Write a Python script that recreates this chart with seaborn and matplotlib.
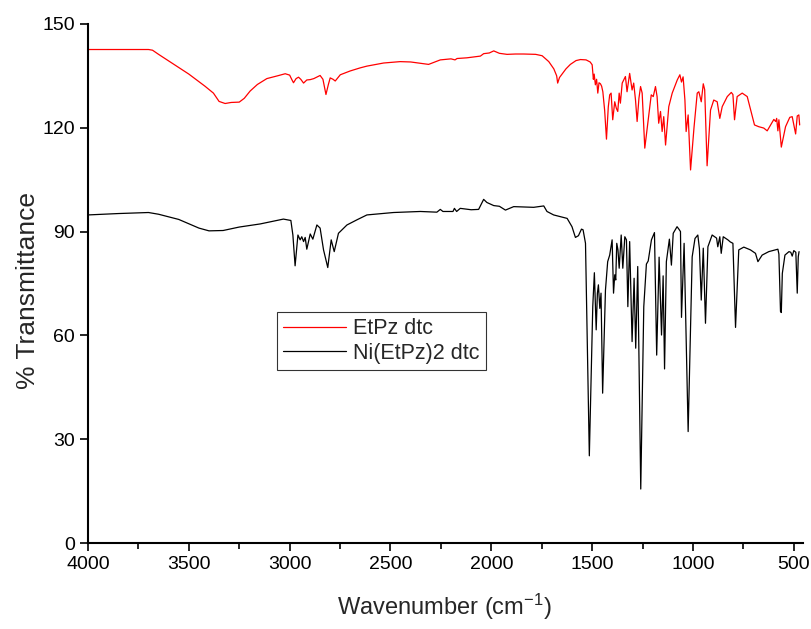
import matplotlib
matplotlib.use("Agg")
import matplotlib.pyplot as plt
import pandas as pd
import seaborn as sns
from matplotlib.ticker import MultipleLocator

# EtPz dtc (red) - wavenumber / %T
etpz_wn = [4000, 3800, 3700, 3680, 3650, 3600, 3500, 3420, 3378, 3350, 3320, 3290, 3250, 3225,
           3196, 3160, 3113, 3060, 3022, 3000, 2990, 2981, 2968, 2956, 2945, 2931, 2915, 2898,
           2880, 2849, 2835, 2820, 2808, 2799, 2785, 2774, 2749, 2700, 2650, 2617, 2534, 2452,
           2400, 2311, 2280, 2253, 2200, 2180, 2170, 2121, 2080, 2054, 2038, 2010, 1988, 1960,
           1922, 1880, 1840, 1780, 1748, 1715, 1690, 1676, 1671, 1662, 1649, 1630, 1608, 1580,
           1558, 1530, 1510, 1500, 1494, 1490, 1484, 1478, 1472, 1466, 1459, 1453, 1447, 1438,
           1429, 1420, 1413, 1406, 1398, 1388, 1380, 1373, 1366, 1360, 1351, 1335, 1327, 1314,
           1302, 1294, 1285, 1277, 1268, 1260, 1252, 1239, 1224, 1207, 1197, 1186, 1178, 1170,
           1161, 1153, 1145, 1136, 1120, 1103, 1078, 1065, 1057, 1049, 1040, 1034, 1024, 1012,
           995, 979, 971, 959, 949, 942, 930, 913, 897, 880, 867, 855, 830, 810, 802, 794, 781,
           756, 731, 714, 695, 674, 649, 632, 615, 599, 590, 585, 579, 574, 562, 541, 520, 508,
           491, 483, 475, 471]
etpz_t = [142.6, 142.6, 142.6, 142.4, 141.2, 139.3, 135.5, 132.0, 130.0, 127.6, 127.0, 127.3,
          127.4, 128.5, 130.6, 132.5, 134.2, 135.0, 135.6, 135.2, 134.0, 133.0, 134.2, 134.6,
          134.0, 132.9, 133.8, 133.9, 134.2, 135.1, 134.0, 129.6, 132.5, 134.4, 134.0, 133.5,
          135.3, 136.4, 137.3, 137.8, 138.7, 139.1, 139.0, 138.3, 139.0, 139.6, 139.9, 139.6,
          140.0, 140.2, 140.5, 140.7, 141.4, 141.6, 142.2, 141.5, 141.2, 141.3, 141.3, 141.2,
          140.8, 139.1, 137.0, 135.0, 132.9, 134.5, 135.5, 137.0, 138.3, 139.4, 139.7, 139.6,
          139.0, 138.2, 134.0, 135.5, 132.4, 134.0, 130.0, 133.0, 132.7, 132.0, 130.4, 125.0,
          116.7, 126.0, 129.5, 130.0, 122.3, 127.5, 125.6, 124.7, 130.0, 127.1, 132.9, 134.8,
          130.4, 135.7, 130.9, 132.9, 128.0, 121.8, 128.5, 131.9, 130.0, 114.1, 121.3, 129.5,
          129.0, 131.9, 129.0, 121.3, 124.7, 118.9, 123.2, 115.0, 126.1, 130.0, 133.8, 135.3,
          133.2, 134.7, 128.0, 118.9, 123.7, 107.8, 120.0, 130.0, 130.4, 127.5, 132.7, 131.0,
          109.0, 125.1, 128.0, 127.5, 122.7, 126.1, 129.0, 130.2, 129.6, 122.3, 129.0, 130.0,
          129.0, 125.1, 120.8, 120.3, 119.9, 119.1, 120.8, 122.4, 121.8, 122.7, 119.1, 122.3,
          114.4, 120.3, 123.0, 123.2, 118.2, 123.4, 123.7, 120.8]

# Ni(EtPz)2 dtc (black)
ni_wn = [4000, 3850, 3700, 3650, 3550, 3450, 3400, 3330, 3250, 3146, 3031, 2994, 2984, 2973,
         2959, 2948, 2940, 2931, 2923, 2915, 2898, 2885, 2865, 2849, 2832, 2811, 2794, 2779,
         2758, 2716, 2666, 2617, 2485, 2352, 2270, 2253, 2240, 2190, 2183, 2172, 2154, 2100,
         2063, 2038, 2022, 1988, 1960, 1930, 1889, 1790, 1740, 1724, 1691, 1657, 1624, 1600,
         1583, 1568, 1553, 1545, 1533, 1514, 1497, 1489, 1480, 1474, 1469, 1462, 1456, 1448,
         1434, 1423, 1413, 1401, 1394, 1388, 1383, 1378, 1372, 1366, 1356, 1348, 1338, 1330,
         1323, 1314, 1302, 1292, 1284, 1274, 1259, 1244, 1231, 1222, 1206, 1191, 1180, 1168,
         1156, 1148, 1141, 1132, 1117, 1107, 1098, 1079, 1070, 1062, 1057, 1044, 1024, 1004,
         990, 976, 968, 959, 949, 938, 926, 905, 883, 877, 867, 860, 850, 827, 815, 802, 789,
         773, 748, 715, 690, 678, 657, 624, 579, 574, 569, 566, 562, 557, 544, 524, 515, 508,
         500, 490, 483, 478, 474]
ni_t = [94.8, 95.2, 95.5, 95.0, 93.5, 91.0, 90.2, 90.3, 91.3, 92.2, 93.6, 93.2, 89.0, 80.1,
        89.0, 87.6, 88.5, 87.1, 88.3, 84.9, 89.3, 87.8, 91.9, 91.0, 84.7, 79.6, 87.6, 84.2,
        89.5, 91.9, 93.4, 94.8, 95.5, 95.8, 95.6, 96.4, 95.8, 95.8, 96.7, 95.8, 96.7, 96.3,
        96.4, 99.3, 98.4, 97.5, 97.3, 96.2, 97.2, 97.0, 97.4, 95.8, 94.8, 94.3, 93.8, 91.4,
        88.3, 88.8, 90.7, 90.5, 86.6, 25.2, 68.3, 78.1, 61.6, 72.2, 74.6, 67.8, 72.2, 43.3,
        73.1, 81.3, 83.2, 87.6, 72.2, 77.5, 76.0, 86.6, 84.7, 79.4, 89.0, 79.4, 88.5, 87.6,
        68.3, 87.1, 58.2, 76.5, 56.3, 79.9, 15.6, 68.3, 80.6, 81.5, 87.6, 89.7, 54.3, 82.6,
        60.1, 77.2, 50.3, 81.3, 87.8, 80.3, 89.5, 91.4, 90.7, 90.0, 65.2, 86.6, 32.2, 82.7,
        88.0, 89.0, 85.0, 70.2, 85.2, 63.5, 85.6, 89.0, 88.1, 85.6, 88.5, 83.7, 88.5, 87.6,
        87.0, 86.6, 62.3, 84.7, 85.5, 84.7, 83.7, 81.3, 83.2, 84.2, 84.9, 83.5, 73.1, 66.9,
        66.6, 77.9, 83.2, 84.2, 84.0, 82.9, 84.5, 84.0, 72.2, 82.7, 84.2]

series_names = ["EtPz dtc", "Ni(EtPz)2 dtc"]
series_colors = ["red", "black"]

df = pd.concat([
    pd.DataFrame({"wn": etpz_wn, "T": etpz_t, "sample": series_names[0]}),
    pd.DataFrame({"wn": ni_wn, "T": ni_t, "sample": series_names[1]}),
], ignore_index=True)

sns.set_style("ticks")
plt.rcParams["font.family"] = ["Liberation Sans", "DejaVu Sans"]
plt.rcParams["mathtext.default"] = "regular"

fig, ax = plt.subplots(figsize=(8.11, 6.29), dpi=100)
fig.subplots_adjust(left=0.1085, right=0.990, top=0.962, bottom=0.1367)

sns.lineplot(data=df, x="wn", y="T", hue="sample", hue_order=series_names,
             palette=dict(zip(series_names, series_colors)), estimator=None,
             linewidth=0.9, ax=ax)

ax.set_xlim(4000, 455)
ax.set_ylim(0, 150)
ax.xaxis.set_major_locator(MultipleLocator(500))
ax.xaxis.set_minor_locator(MultipleLocator(250))
ax.yaxis.set_major_locator(MultipleLocator(30))

sns.despine(ax=ax)
for side in ["left", "bottom"]:
    ax.spines[side].set_linewidth(1.5)
    ax.spines[side].set_color("black")
ax.tick_params(axis="both", which="major", direction="out", length=6, width=1.2,
               labelsize=14, color="black", labelcolor="black")
ax.tick_params(axis="x", which="minor", direction="out", length=4, width=1.2, color="black")

ax.set_xlabel("Wavenumber (cm$^{-1}$)", fontsize=17, va="center")
ax.set_ylabel("% Transmittance", fontsize=19, va="center")
ax.xaxis.set_label_coords(0.499, -0.123)
ax.yaxis.set_label_coords(-0.084, 0.487)

leg = ax.legend(loc="upper left", bbox_to_anchor=(0.264, 0.445), borderaxespad=0,
                fontsize=15.5, frameon=True, fancybox=False, handlelength=2.9,
                handletextpad=0.35, borderpad=0.3, labelspacing=0.15)
leg.get_frame().set_edgecolor("black")
leg.get_frame().set_linewidth(0.8)
for line in leg.get_lines():
    line.set_linewidth(0.9)

fig.savefig("out.png", dpi=100)
